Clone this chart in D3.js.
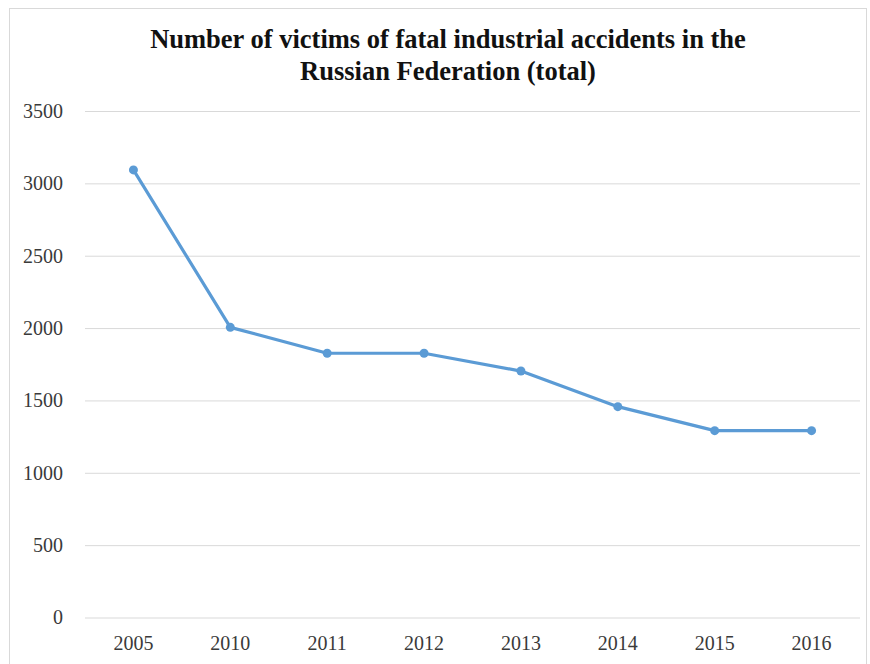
<!DOCTYPE html>
<html>
<head>
<meta charset="utf-8">
<script src="https://cdn.jsdelivr.net/npm/d3@7"></script>
<style>
  html, body { margin: 0; padding: 0; background: #fff; }
  svg { display: block; }
</style>
</head>
<body>
<svg id="chart" width="870" height="664"></svg>
<script>
const categories = ["2005", "2010", "2011", "2012", "2013", "2014", "2015", "2016"];
const victims = [3093, 2005, 1826, 1826, 1703, 1457, 1291, 1291];
const yTicks = [0, 500, 1000, 1500, 2000, 2500, 3000, 3500];
const titleLines = ["Number of victims of fatal industrial accidents in the", "Russian Federation (total)"];

const svg = d3.select("#chart");
const plot = { left: 85, right: 860, top: 111, bottom: 617.5 };
const serif = "'Liberation Serif', 'Times New Roman', serif";

// chart border
svg.append("rect")
  .attr("x", 9.5).attr("y", 8.5)
  .attr("width", 857).attr("height", 670)
  .attr("fill", "#fff").attr("stroke", "#d9d9d9").attr("stroke-width", 1);

const x = d3.scaleBand().domain(categories).range([plot.left, plot.right]).paddingInner(0).paddingOuter(0);
const y = d3.scaleLinear().domain([0, 3500]).range([plot.bottom, plot.top]);

// gridlines + y labels
const yAxis = d3.axisLeft(y).tickValues(yTicks).tickSize(-(plot.right - plot.left)).tickPadding(22).tickFormat(d3.format("d"));
const gy = svg.append("g").attr("transform", `translate(${plot.left},0)`).call(yAxis);
gy.select(".domain").remove();
gy.selectAll(".tick line").attr("stroke", "#d9d9d9").attr("stroke-width", 1);
gy.selectAll(".tick text")
  .attr("fill", "#3a3a3a")
  .style("font-family", serif)
  .style("font-size", "20px");

// x axis labels
const xAxis = d3.axisBottom(x).tickSize(0).tickPadding(18);
const gx = svg.append("g").attr("transform", `translate(0,${plot.bottom})`).call(xAxis);
gx.select(".domain").remove();
gx.selectAll(".tick text")
  .attr("fill", "#3a3a3a")
  .style("font-family", serif)
  .style("font-size", "20px");

const cx = d => x(d) + x.bandwidth() / 2;

// line
const line = d3.line().x((d, i) => cx(categories[i])).y(d => y(d));
svg.append("path")
  .datum(victims)
  .attr("fill", "none")
  .attr("stroke", "#5b9bd5")
  .attr("stroke-width", 3.2)
  .attr("stroke-linejoin", "round")
  .attr("d", line);

svg.selectAll("circle.pt")
  .data(victims)
  .enter().append("circle")
  .attr("class", "pt")
  .attr("cx", (d, i) => cx(categories[i]))
  .attr("cy", d => y(d))
  .attr("r", 4.5)
  .attr("fill", "#5b9bd5");

// title
const title = svg.append("text")
  .attr("text-anchor", "middle")
  .attr("fill", "#111")
  .style("font-family", serif)
  .style("font-weight", "bold")
  .style("font-size", "26.5px");
title.selectAll("tspan")
  .data(titleLines)
  .enter().append("tspan")
  .attr("x", 448)
  .attr("y", (d, i) => 48 + i * 32)
  .text(d => d);
</script>
</body>
</html>
